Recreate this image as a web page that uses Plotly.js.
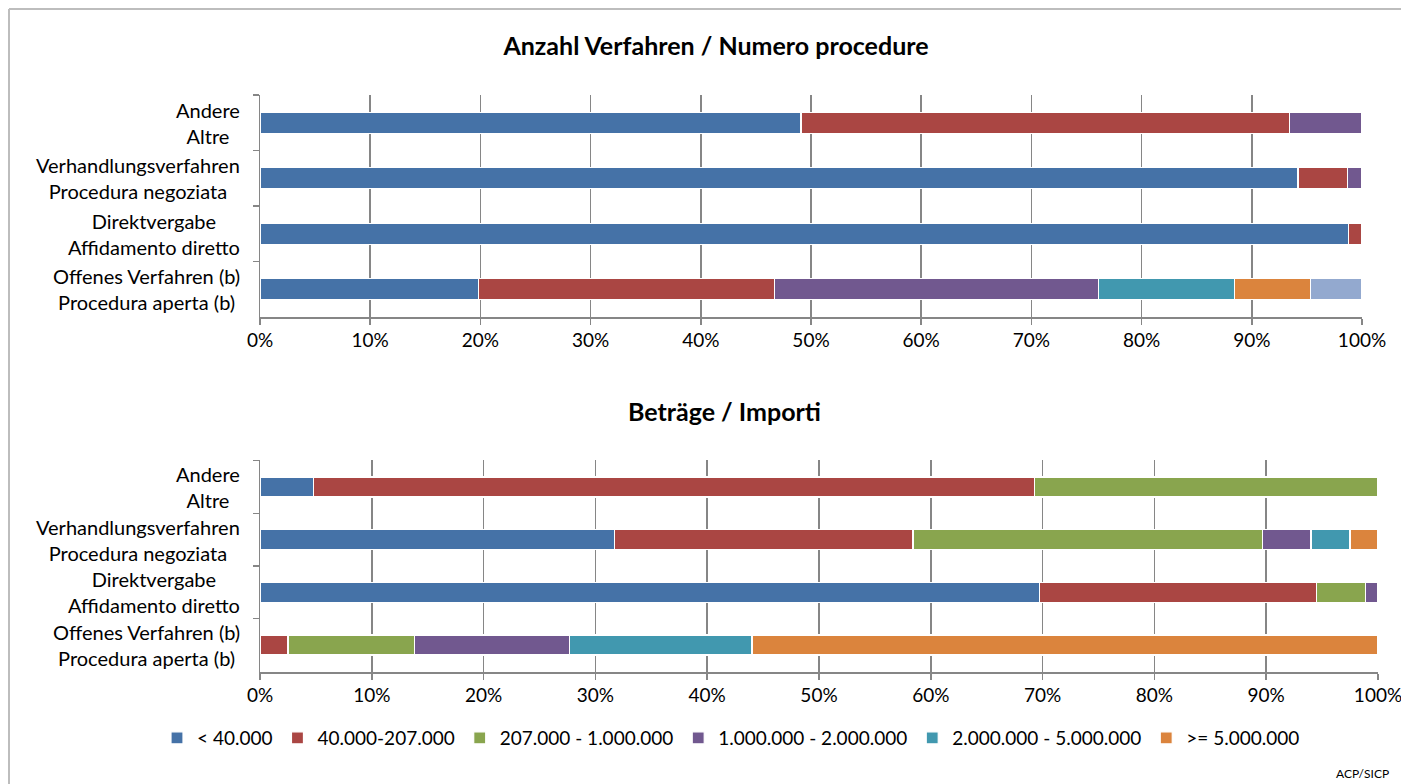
<!DOCTYPE html>
<html>
<head>
<meta charset="utf-8">
<script src="https://cdn.plot.ly/plotly-3.0.1.min.js"></script>
<style>html,body{margin:0;padding:0;background:#fff;}#chart{width:1401px;height:784px;}</style>
</head>
<body>
<div id="chart"></div>
<script>
// Categories (top to bottom as displayed)
const categories = [
  "Andere<br>Altre",
  "Verhandlungsverfahren<br>Procedura negoziata",
  "Direktvergabe<br>Affidamento diretto",
  "Offenes Verfahren (b)<br>Procedura aperta (b)"
];
const classNames = ["< 40.000", "40.000-207.000", "207.000 - 1.000.000", "1.000.000 - 2.000.000", "2.000.000 - 5.000.000", ">= 5.000.000"];

// Top chart: Anzahl Verfahren / Numero procedure (share %, per category in order above)
const countSeries = [
  [49.1, 94.2, 98.8, 19.8],
  [44.3, 4.5, 1.2, 26.9],
  [6.6, 1.3, 0, 29.4],
  [0, 0, 0, 12.3],
  [0, 0, 0, 6.9],
  [0, 0, 0, 4.7]
];
// Bottom chart: Beträge / Importi (share %)
const amountSeries = [
  [4.8, 31.7, 69.7, 0],
  [64.5, 26.7, 24.8, 2.5],
  [30.7, 31.3, 4.4, 11.3],
  [0, 4.3, 1.1, 13.9],
  [0, 3.5, 0, 16.3],
  [0, 2.5, 0, 56.0]
];
const xTickVals = [0,10,20,30,40,50,60,70,80,90,100];

const amountColors = ["#4572A7", "#AA4643", "#89A54E", "#71588F", "#4198AF", "#DB843D"];
const countColors = ["#4572A7", "#AA4643", "#71588F", "#4198AF", "#DB843D", "#93A9CF"];

const FONT = "Lato, 'Open Sans', sans-serif";
const W = 1401, H = 784;

const traces = [];
countSeries.forEach((vals, i) => {
  traces.push({
    type: "bar", orientation: "h", x: vals, y: categories,
    xaxis: "x", yaxis: "y", name: classNames[i], showlegend: false,
    marker: {color: countColors[i], line: {color: "#ffffff", width: 1.2}},
    hoverinfo: "x+name"
  });
});
amountSeries.forEach((vals, i) => {
  traces.push({
    type: "bar", orientation: "h", x: vals, y: categories,
    xaxis: "x2", yaxis: "y2", name: classNames[i], showlegend: true,
    marker: {color: amountColors[i], line: {color: "#ffffff", width: 1.2}},
    hoverinfo: "x+name"
  });
});

const gridCol = "#868686";
function xAxis(domain, anchor) {
  return {
    domain: domain, anchor: anchor, range: [0, 100], tickvals: xTickVals,
    ticktext: xTickVals.map(v => v + "%"), ticks: "outside", ticklen: 6, tickwidth: 1.5,
    tickcolor: gridCol, showline: true, linecolor: gridCol, linewidth: 1.5,
    showgrid: true, gridcolor: gridCol, gridwidth: 1.5, zeroline: false,
    ticklabeloverflow: "allow",
    tickfont: {family: FONT, size: 19, color: "#000"}, fixedrange: true
  };
}
function yAxis(domain, anchor) {
  return {
    domain: domain, anchor: anchor, type: "category", autorange: "reversed",
    categoryorder: "array", categoryarray: categories,
    showticklabels: false, ticks: "outside", tickson: "boundaries", ticklen: 6,
    tickwidth: 1.5, tickcolor: gridCol, showline: true, linecolor: gridCol, linewidth: 1.5,
    showgrid: false, zeroline: false, fixedrange: true
  };
}

const annotations = [];
categories.forEach(c => {
  ["y", "y2"].forEach(ya => {
    annotations.push({
      xref: "paper", yref: ya, x: 242 / W, y: c, text: c, showarrow: false,
      xanchor: "right", yanchor: "middle", align: "center",
      font: {family: FONT, size: 20, color: "#000"}
    });
  });
});
annotations.push({
  xref: "paper", yref: "paper", x: 724 / W, y: 1 - 411 / H, text: "<b>Beträge / Importi</b>",
  showarrow: false, xanchor: "center", yanchor: "middle",
  font: {family: FONT, size: 25, color: "#000"}
});
annotations.push({
  xref: "paper", yref: "paper", x: 1391 / W, y: 1 - 773 / H, text: "ACP/SICP",
  showarrow: false, xanchor: "right", yanchor: "middle",
  font: {family: FONT, size: 12, color: "#000"}
});

const layout = {
  width: W, height: H, margin: {l: 0, r: 0, t: 0, b: 0},
  paper_bgcolor: "#ffffff", plot_bgcolor: "rgba(0,0,0,0)",
  barmode: "stack", bargap: 0.62,
  title: {text: "<b>Anzahl Verfahren / Numero procedure</b>", x: 716 / W, xanchor: "center",
          y: 1 - 46 / H, yanchor: "middle", font: {family: FONT, size: 25, color: "#000"}},
  xaxis: xAxis([260 / W, 1362 / W], "y"),
  yaxis: yAxis([1 - 317 / H, 1 - 95 / H], "x"),
  xaxis2: xAxis([260 / W, 1378 / W], "y2"),
  yaxis2: yAxis([1 - 672 / H, 1 - 460 / H], "x2"),
  legend: {orientation: "h", x: 731 / W, xanchor: "center", y: 1 - 738 / H, yanchor: "middle",
           font: {family: FONT, size: 19, color: "#000"}, traceorder: "normal", itemclick: false,
           itemwidth: 30, tracegroupgap: 0},
  annotations: annotations,
  shapes: [
    {type: "line", xref: "paper", yref: "paper", x0: 9 / W, x1: 1, y0: 1 - 9 / H, y1: 1 - 9 / H,
     line: {color: "#bdbdbd", width: 2}},
    {type: "line", xref: "paper", yref: "paper", x0: 9 / W, x1: 9 / W, y0: 0, y1: 1 - 9 / H,
     line: {color: "#bdbdbd", width: 2}}
  ],
  font: {family: FONT, color: "#000"}
};

Plotly.newPlot("chart", traces, layout, {displayModeBar: false, staticPlot: true});
</script>
</body>
</html>
